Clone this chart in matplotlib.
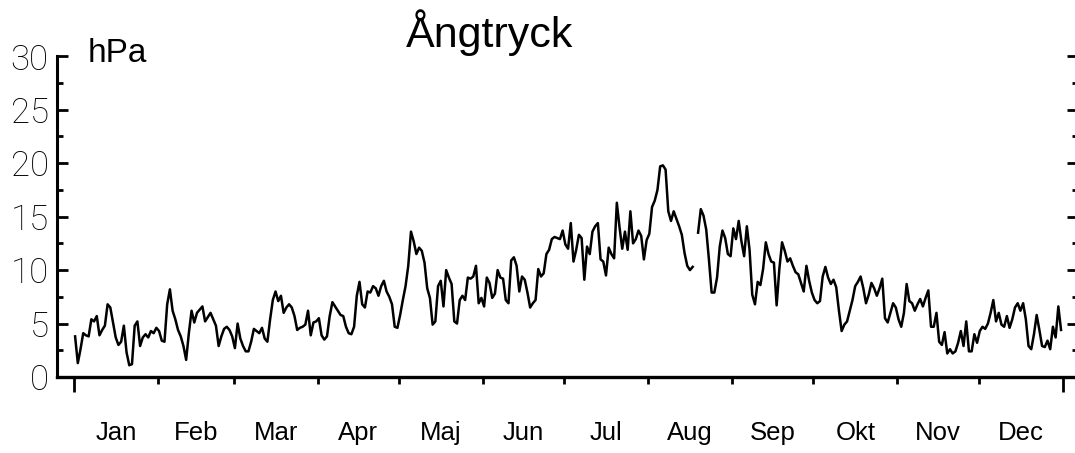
import numpy as np
import matplotlib
matplotlib.use("Agg")
import matplotlib.pyplot as plt
from matplotlib.ticker import MultipleLocator, FixedLocator, NullFormatter

# ─── DATA: daily vapour pressure (hPa), one list per month ─────
jan = [3.8, 1.3, 2.6, 4.1, 3.9, 3.8, 5.4, 5.2, 5.7, 3.9, 4.4, 4.8, 6.8, 6.5, 5.1, 3.7,
       3.0, 3.3, 4.8, 2.3, 1.1, 1.2, 4.8, 5.2, 2.9, 3.7, 4.0, 3.7, 4.3, 4.1, 4.6]
feb = [4.3, 3.4, 3.3, 6.8, 8.2, 6.2, 5.4, 4.4, 3.8, 2.9, 1.6, 4.1, 6.2, 5.1, 6.0, 6.3,
       6.6, 5.2, 5.6, 6.0, 5.4, 4.8, 2.9, 3.8, 4.5, 4.7, 4.4, 3.8]
mar = [2.7, 5.0, 3.6, 2.9, 2.4, 2.4, 3.3, 4.5, 4.3, 4.1, 4.6, 3.6, 3.3, 5.4, 7.2, 8.0,
       7.1, 7.6, 6.0, 6.5, 6.8, 6.5, 5.7, 4.4, 4.6, 4.7, 4.9, 6.2, 3.9, 5.1, 5.2]
apr = [5.5, 3.9, 3.5, 3.8, 5.7, 7.0, 6.6, 6.2, 5.8, 5.7, 4.7, 4.1, 4.0, 4.7, 7.6, 8.9,
       6.8, 6.5, 8.0, 7.9, 8.5, 8.3, 7.6, 8.5, 9.0, 8.0, 7.5, 6.8, 4.7, 4.6]
maj = [5.8, 7.2, 8.5, 10.4, 13.6, 12.7, 11.5, 12.1, 11.8, 10.7, 8.3, 7.4, 4.9, 5.2, 8.5,
       9.0, 6.6, 10.0, 9.3, 8.7, 5.2, 5.0, 7.2, 7.6, 7.2, 9.3, 9.2, 9.4, 10.4, 6.9, 7.4]
jun = [6.6, 9.3, 8.8, 7.4, 7.8, 10.0, 9.3, 9.2, 7.2, 6.9, 10.9, 11.2, 10.4, 8.0, 9.4,
       9.1, 7.9, 6.5, 6.9, 7.2, 10.1, 9.4, 9.7, 11.5, 11.9, 12.9, 13.1, 13.0, 12.9, 13.7]
jul = [12.4, 12.0, 14.4, 10.8, 11.9, 13.3, 13.0, 9.1, 12.2, 11.5, 13.6, 14.1, 14.4, 11.0,
       10.8, 9.5, 12.1, 11.5, 11.1, 16.3, 14.0, 12.0, 13.6, 11.9, 15.5, 12.5, 12.9, 13.7,
       13.2, 11.0, 12.8]
aug = [13.4, 15.9, 16.5, 17.5, 19.7, 19.8, 19.4, 15.5, 14.6, 15.5, 14.8, 14.1, 13.3, 11.6,
       10.4, 10.0, 10.3, np.nan, 13.5, 15.7, 15.1, 13.8, 11.0, 7.9, 7.9, 9.3, 12.2, 13.7,
       13.0, 11.5, 11.3]
sep = [13.9, 12.9, 14.6, 12.7, 11.3, 14.1, 11.9, 7.7, 6.8, 8.9, 8.6, 10.1, 12.6, 11.5,
       10.8, 10.7, 6.7, 10.1, 12.6, 11.8, 10.8, 11.1, 10.4, 9.8, 9.6, 8.8, 8.0, 10.4, 9.0, 7.9]
okt = [7.2, 6.9, 7.1, 9.4, 10.3, 9.3, 8.7, 9.1, 8.4, 6.2, 4.3, 4.9, 5.2, 6.2, 7.2, 8.5,
       8.9, 9.4, 8.3, 6.9, 7.7, 8.8, 8.3, 7.6, 8.3, 9.2, 5.5, 5.1, 6.0, 6.9, 6.5]
nov = [5.4, 4.7, 6.0, 8.7, 7.1, 6.9, 6.2, 6.8, 7.3, 6.6, 7.4, 8.1, 4.7, 4.7, 6.0, 3.3,
       3.0, 4.2, 2.2, 2.6, 2.2, 2.4, 3.2, 4.3, 2.9, 5.2, 2.4, 2.4, 4.0, 3.2]
dec = [4.3, 4.7, 4.5, 5.0, 6.0, 7.2, 5.2, 6.0, 4.9, 4.7, 5.7, 4.6, 5.4, 6.5, 6.9, 6.2,
       6.9, 5.4, 2.9, 2.6, 4.0, 5.8, 4.4, 2.9, 2.8, 3.4, 2.6, 4.7, 3.7, 6.6, 4.4]

months = [jan, feb, mar, apr, maj, jun, jul, aug, sep, okt, nov, dec]
month_labels = ["Jan", "Feb", "Mar", "Apr", "Maj", "Jun",
                "Jul", "Aug", "Sep", "Okt", "Nov", "Dec"]

# ─── PREP ─────────────────────────────────────────────────────
values = np.concatenate([np.array(m, dtype=float) for m in months])
days = np.arange(len(values)) + 0.4
lengths = [len(m) for m in months]
month_starts = np.concatenate([[0], np.cumsum(lengths)])
month_mids = month_starts[:-1] + np.array(lengths) / 2.0

# ─── FIGURE ───────────────────────────────────────────────────
fig = plt.figure(figsize=(10.75, 4.53), dpi=100)
ax = fig.add_axes([57 / 1075, 76 / 453, 1021 / 1075, 320.7 / 453])

ax.plot(days, values, color="black", linewidth=1.8)

ax.set_xlim(-6.28, 370.66)
ax.set_ylim(0, 30)

for side in ["top", "right"]:
    ax.spines[side].set_visible(False)
ax.spines["left"].set_linewidth(2.2)
ax.spines["bottom"].set_linewidth(2.4)

# y axis: ticks inside, on both sides
ax.yaxis.set_major_locator(MultipleLocator(5))
ax.yaxis.set_minor_locator(MultipleLocator(2.5))
ax.tick_params(axis="y", which="major", direction="in", length=8, width=2,
               left=True, right=True, labelsize=25, pad=6)
ax.tick_params(axis="y", which="minor", direction="in", length=4.3, width=2,
               left=True, right=True)
for lab in ax.get_yticklabels():
    lab.set_family(["Roboto", "DejaVu Sans"])
    lab.set_fontweight("light")

# x axis: month borders as ticks, names centred in each month
ax.xaxis.set_major_locator(FixedLocator(month_mids))
ax.set_xticklabels(month_labels, fontsize=18.5, family="Liberation Sans")
ax.xaxis.set_minor_locator(FixedLocator(month_starts[1:-1]))
ax.xaxis.set_minor_formatter(NullFormatter())
ax.tick_params(axis="x", which="major", length=0, pad=32)
ax.tick_params(axis="x", which="minor", direction="out", length=5, width=2)

# longer ticks at the start and end of the year
sec = ax.secondary_xaxis("bottom")
sec.set_xticks([month_starts[0], month_starts[-1]])
sec.set_xticklabels(["", ""])
sec.tick_params(direction="out", length=11, width=2)
sec.spines["bottom"].set_visible(False)

fig.text(490 / 1075, 1 - 47 / 453, "Ångtryck", ha="center", va="baseline",
         fontsize=31, family="Liberation Sans")
fig.text(88 / 1075, 1 - 62 / 453, "hPa", ha="left", va="baseline",
         fontsize=24, family="Liberation Sans")

fig.savefig("out.png", dpi=100)
